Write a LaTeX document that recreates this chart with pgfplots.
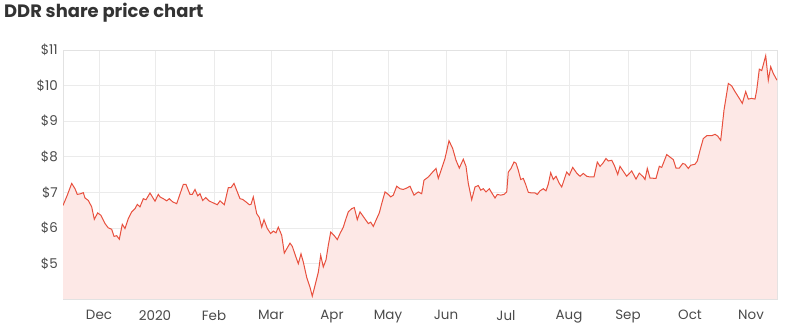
\documentclass[border=0pt]{standalone}
\usepackage{pgfplots}
\pgfplotsset{compat=1.18}
\usepackage{pgfplotstable}
\usepackage{fontspec}
\setmainfont{Poppins}
\definecolor{lineRed}{HTML}{E8503E}
\definecolor{fillPink}{HTML}{FDE8E6}
\definecolor{gridGray}{HTML}{EBEBEB}
\definecolor{frameGray}{HTML}{E2E2E2}
\definecolor{baseGray}{HTML}{D2D2D2}
\definecolor{tickText}{HTML}{4A4A4A}
\definecolor{titleText}{HTML}{333333}
\pgfplotstableread{
x y
63 6.63
67.3 6.92
71.7 7.25
75 7.10
77.3 6.94
80.7 6.96
83.3 6.99
85 6.84
88.3 6.77
91.7 6.59
94.3 6.24
97.7 6.42
101 6.35
105 6.12
108.3 6.00
111.7 5.96
114 5.76
116.7 5.78
119.3 5.68
122.3 6.10
125 5.98
128.3 6.26
131.7 6.45
135 6.54
137.3 6.66
140 6.59
143.3 6.82
146 6.79
150 6.98
155 6.75
158.3 6.94
160 6.87
163.3 6.82
166.7 6.76
169.3 6.82
172.7 6.73
176.7 6.68
183.3 7.22
186 7.22
190 6.94
192.3 6.94
195 7.08
197.7 6.90
200 6.96
202.7 6.77
205.7 6.85
209 6.76
213.3 6.70
217.3 6.65
220 6.76
224.3 6.65
228.3 7.13
231 7.13
234 7.25
237.3 7.01
240 6.82
242.7 6.80
246 6.73
249.3 6.65
251 6.66
253.3 6.87
256.7 6.40
259.3 6.29
261.7 6.02
264 6.23
267.3 5.98
270.7 5.84
273.3 5.91
276 5.86
278.3 6.02
281.7 5.79
284.3 5.29
286.7 5.41
290 5.57
292.3 5.48
295.7 5.20
298.3 4.99
301 5.27
303.3 5.04
306.7 4.61
310 4.33
312.3 4.08
315 4.38
318.3 4.75
320.7 5.23
323.3 4.90
326 5.10
328.3 5.51
330.7 5.88
334 5.79
337.3 5.67
340 5.84
343.3 6.02
346 6.26
348.3 6.45
351.7 6.54
354.3 6.57
357.3 6.23
360 6.45
364 6.29
368.3 6.12
370.7 6.16
373.3 6.04
376.7 6.26
379.3 6.42
381.7 6.68
385 7.01
388.3 6.94
390.7 6.87
393.3 6.92
396.7 7.17
400 7.10
403.3 7.08
406.7 7.12
410 7.17
414 6.92
418.3 7.01
421.7 6.96
424 7.34
428.3 7.43
433.3 7.59
436 7.67
438.3 7.39
441.7 7.67
445 7.95
449 8.45
452.7 8.23
456 7.90
459.3 7.68
463.3 7.93
466 7.73
468.3 7.25
471.7 6.79
475 7.15
478.3 7.19
480.7 7.06
483.3 7.10
486 7.01
489.3 7.10
492.3 6.96
495 6.84
497.3 6.94
500.7 6.92
504 6.94
506.7 7.01
508.3 7.57
511 7.67
514 7.85
516 7.82
518.3 7.62
520.7 7.36
523.3 7.39
525.7 7.22
528.3 7.00
531.7 6.98
535 6.98
537.3 6.94
540 7.04
543.3 7.10
546 7.04
548.3 7.23
550.7 7.55
553.3 7.36
556 7.45
559.3 7.25
561.7 7.15
566.7 7.57
569.3 7.48
572.7 7.70
576.7 7.54
580 7.45
583.3 7.53
586.7 7.45
590 7.43
594 7.43
597.3 7.85
600 7.73
602.7 7.81
606 7.95
608.3 7.88
611.7 7.90
614.3 7.76
617.7 7.50
620 7.73
623.3 7.59
626.7 7.45
631.7 7.60
636 7.37
639.3 7.54
643.3 7.43
645 7.36
647.3 7.67
650 7.40
656 7.39
659.3 7.73
661.7 7.70
666.7 8.06
670 7.99
673.3 7.92
676 7.68
679.3 7.68
682.7 7.81
685 7.79
688.3 7.67
690.7 7.76
695 7.79
697.3 7.88
700 8.18
703.3 8.51
706.7 8.59
711.7 8.59
715 8.63
717.7 8.58
720.7 8.46
724 9.31
728.3 10.06
731.7 9.99
735 9.83
739.3 9.64
742.3 9.50
745.7 9.83
748.3 9.62
751.7 9.64
755 9.62
756.7 9.87
759.3 10.46
761.7 10.42
765.7 10.84
768.3 10.15
770.7 10.53
773.3 10.34
777 10.15
}\pricedata
\begin{document}
\begin{tikzpicture}
\begin{axis}[
  name=ax,
  at={(0,0)}, anchor=south west,
  scale only axis,
  width=714bp, height=249bp,
  xmin=63, xmax=777,
  ymin=4, ymax=11,
  xtick={99,155,214,271,332,388,446,506,569,628,690,751},
  xticklabels={Dec,2020,Feb,Mar,Apr,May,Jun,Jul,Aug,Sep,Oct,Nov},
  ytick={5,6,7,8,9,10,11},
  yticklabels={\$5,\$6,\$7,\$8,\$9,\$10,\$11},
  major tick length=0pt,
  grid=major,
  major grid style={color=gridGray, line width=0.6bp},
  axis line style={color=frameGray, line width=0.6bp},
  tick label style={font=\fontsize{13.5}{15}\selectfont, text=tickText},
  yticklabel style={inner sep=0pt, xshift=-5bp},
  xticklabel style={inner sep=0pt, yshift=-11bp},
]
\addplot[draw=none, fill=fillPink] table[x=x, y=y] {\pricedata} \closedcycle;
\addplot[color=lineRed, line width=1bp, mark=none] table[x=x, y=y] {\pricedata};
\draw[color=baseGray, line width=0.8bp] (rel axis cs:0,0) -- (rel axis cs:1,0);
\end{axis}
\node[anchor=base west, inner sep=0pt, text=titleText, font=\fontsize{18}{21}\selectfont\bfseries]
  at ([xshift=-59bp, yshift=32.7bp]ax.north west) {DDR share price chart};
\pgfresetboundingbox
\useasboundingbox (-63bp,-35bp) rectangle (732bp,299bp);
\end{tikzpicture}
\end{document}
